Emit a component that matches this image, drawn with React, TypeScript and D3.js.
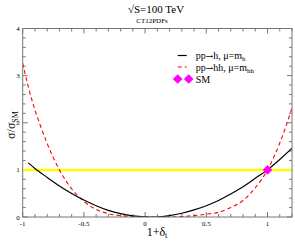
import * as d3 from 'd3'

const W = 295
const H = 242
const m = { top: 28.5, right: 3, bottom: 25, left: 22.7 }

// pp -> h, mu = m_h (black solid)
const singleX = [-0.955, -0.9, -0.8, -0.7, -0.6, -0.5, -0.4, -0.3, -0.2, -0.1, 0, 0.1, 0.2, 0.3, 0.4, 0.5, 0.6, 0.7, 0.8, 0.9, 1.0, 1.1, 1.2]
const singleY = [1.15, 1.03, 0.84, 0.66, 0.5, 0.36, 0.24, 0.14, 0.07, 0.025, 0.005, 0.0, 0.03, 0.08, 0.15, 0.24, 0.35, 0.49, 0.64, 0.82, 1.0, 1.22, 1.46]

// pp -> hh, mu = m_hh (red dashed)
const pairX = [-1.0, -0.95, -0.9, -0.85, -0.8, -0.75, -0.7, -0.6, -0.5, -0.4, -0.3, -0.2, -0.1, 0, 0.1, 0.2, 0.3, 0.4, 0.5, 0.6, 0.7, 0.8, 0.9, 1.0, 1.1, 1.2]
const pairY = [3.26, 2.72, 2.27, 1.9, 1.56, 1.26, 1.0, 0.6, 0.33, 0.16, 0.07, 0.03, 0.01, 0.0, 0.0, 0.0, 0.01, 0.03, 0.06, 0.1, 0.2, 0.35, 0.62, 1.0, 1.57, 2.31]

const smPoint = { x: 1, y: 1 }
const refLine = 1

const xTickLabels = [-1, -0.5, 0, 0.5, 1]
const yTickLabels = [0, 1, 2, 3, 4]
const xMinor = d3.range(-10, 13).map(i => i / 10)
const yMinor = d3.range(0, 21).map(i => i / 5)

const serif = '"Liberation Serif", "DejaVu Serif", serif'
const arrowFont = '"DejaVu Serif", serif'

export default function App() {
  const iW = W - m.left - m.right
  const iH = H - m.top - m.bottom
  const x = d3.scaleLinear().domain([-1, 1.2]).range([0, iW])
  const y = d3.scaleLinear().domain([0, 4]).range([iH, 0])

  const singlePath = d3.line<number>()
    .x((_, i) => x(singleX[i]))
    .y(d => y(d))
    .curve(d3.curveMonotoneX)(singleY)
  const pairPath = d3.line<number>()
    .x((_, i) => x(pairX[i]))
    .y(d => y(d))
    .curve(d3.curveMonotoneX)(pairY)

  const diamond = d3.symbol().type(d3.symbolDiamond2).size(60)()

  const isMajorX = (v: number) => Math.abs(v * 2 - Math.round(v * 2)) < 1e-6
  const isMajorY = (v: number) => Math.abs(v - Math.round(v)) < 1e-6
  const tickColor = '#555'

  return (
    <svg width={W} height={H} style={{ position: 'absolute', left: 0, top: 0, background: '#fff' }}>
      <defs>
        <clipPath id="plot">
          <rect x={0} y={0} width={iW} height={iH} />
        </clipPath>
      </defs>
      <text x={156} y={13} textAnchor="middle" fontFamily={serif} fontSize={11}>√S=100 TeV</text>
      <text x={152} y={23} textAnchor="middle" fontFamily={serif} fontSize={7}>CT12PDFs</text>

      <g transform={`translate(${m.left},${m.top})`}>
        {/* ticks */}
        {xMinor.map(v => {
          const len = isMajorX(v) ? 5 : 3
          return (
            <g key={'x' + v}>
              <line x1={x(v)} x2={x(v)} y1={iH} y2={iH - len} stroke={tickColor} strokeWidth={0.8} />
              <line x1={x(v)} x2={x(v)} y1={0} y2={len} stroke={tickColor} strokeWidth={0.8} />
            </g>
          )
        })}
        {yMinor.map(v => {
          const len = isMajorY(v) ? 5 : 3
          return (
            <g key={'y' + v}>
              <line x1={0} x2={len} y1={y(v)} y2={y(v)} stroke={tickColor} strokeWidth={0.8} />
              <line x1={iW} x2={iW - len} y1={y(v)} y2={y(v)} stroke={tickColor} strokeWidth={0.8} />
            </g>
          )
        })}
        {xTickLabels.map(v => (
          <text key={'xl' + v} x={x(v)} y={iH + 8.5} textAnchor="middle" fontFamily={serif} fontSize={7}>{v}</text>
        ))}
        {yTickLabels.map(v => (
          <text key={'yl' + v} x={-3} y={y(v) + 2.5} textAnchor="end" fontFamily={serif} fontSize={7}>{v}</text>
        ))}

        <g clipPath="url(#plot)">
          <line x1={0} x2={iW} y1={y(refLine)} y2={y(refLine)} stroke="#ffff00" strokeWidth={2.5} />
          <path d={pairPath ?? ''} fill="none" stroke="#ff0000" strokeWidth={1.1} strokeDasharray="4,3" />
          <path d={singlePath ?? ''} fill="none" stroke="#000" strokeWidth={1.2} />
        </g>
        <path d={diamond ?? ''} transform={`translate(${x(smPoint.x)},${y(smPoint.y)})`} fill="#ff00ff" />

        <rect x={0} y={0} width={iW} height={iH} fill="none" stroke="#777" strokeWidth={1} />

        {/* legend */}
        <g transform="translate(155,0)">
          <line x1={0} x2={9} y1={27} y2={27} stroke="#000" strokeWidth={1.2} />
          <text x={18} y={30.5} fontFamily={serif} fontSize={10}>
            pp<tspan fontFamily={arrowFont} fontSize={9}>→</tspan>h, μ=m<tspan fontSize={7} dy={2}>h</tspan>
          </text>
          <line x1={0} x2={9} y1={38.5} y2={38.5} stroke="#ff0000" strokeWidth={1.1} strokeDasharray="4,3" />
          <text x={18} y={42} fontFamily={serif} fontSize={10}>
            pp<tspan fontFamily={arrowFont} fontSize={9}>→</tspan>hh, μ=m<tspan fontSize={7} dy={2}>hh</tspan>
          </text>
          <path d={diamond ?? ''} transform="translate(0,50.5)" fill="#ff00ff" />
          <path d={diamond ?? ''} transform="translate(11,50.5)" fill="#ff00ff" />
          <text x={18} y={54} fontFamily={serif} fontSize={10}>SM</text>
        </g>
      </g>

      <text transform="translate(15,125) rotate(-90)" textAnchor="middle" fontFamily={serif} fontSize={12}>
        σ/σ<tspan fontSize={8} dy={3}>SM</tspan>
      </text>
      <text x={157} y={236} textAnchor="middle" fontFamily={serif} fontSize={12}>
        1+δ<tspan fontSize={8} dy={2}>t</tspan>
      </text>
    </svg>
  )
}
